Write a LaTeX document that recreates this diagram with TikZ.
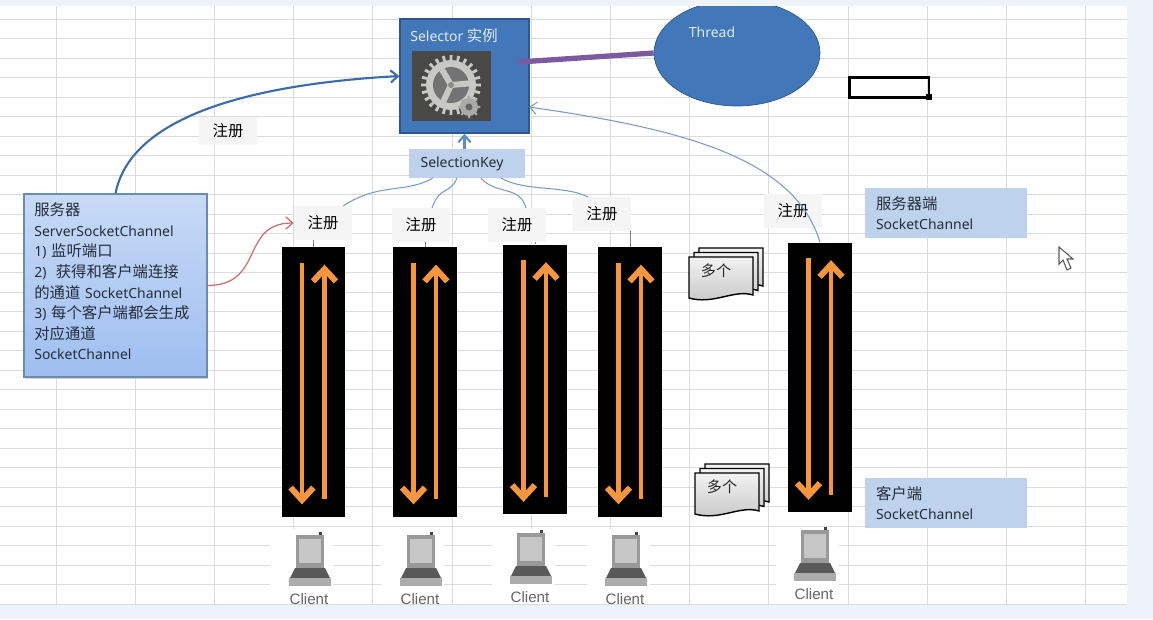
\documentclass[tikz,border=0pt]{standalone}
\usepackage{fontspec}
\usepackage{xcolor}
\usepackage{tikz}
\usetikzlibrary{arrows.meta,shadows,shapes.geometric}
\setmainfont{Noto Sans}
\newfontfamily\cjk[Scale=1.1]{Noto Sans CJK SC}
\newfontfamily\clientfont{Liberation Sans}
\definecolor{pagebg}{RGB}{238,243,250}
\definecolor{gridcol}{RGB}{220,220,220}
\definecolor{accent}{RGB}{66,120,186}
\definecolor{accentdark}{RGB}{46,88,140}
\definecolor{lightlabel}{RGB}{222,235,250}
\definecolor{keyblue}{RGB}{190,210,236}
\definecolor{regbg}{RGB}{245,245,245}
\definecolor{flow}{RGB}{247,150,60}
\definecolor{link}{RGB}{122,155,200}
\definecolor{linkred}{RGB}{200,110,110}
\definecolor{threadline}{RGB}{125,90,160}
\definecolor{silver}{RGB}{200,200,197}
\definecolor{gearbg}{RGB}{72,72,68}
\definecolor{inktext}{RGB}{35,45,60}
\definecolor{servertop}{RGB}{200,218,246}
\definecolor{servermid}{RGB}{222,234,252}
\definecolor{serverlow}{RGB}{158,190,240}
\tikzset{
  pics/client/.style={code={
    \fill[gray!80] (-13,-64) rectangle (15,-31);
    \fill[gray!45] (-10,-60) rectangle (12,-36);
    \fill[black!75] (10,-67) rectangle (13,-64);
    \fill[black!65] (-14,-31) -- (16,-31) -- (21,-21) -- (-19,-21) -- cycle;
    \fill[gray!65] (-20,-21) rectangle (22,-13);
    \node[clienttext] (-label) at (0,0) {Client};
  }},
  pics/docstack/.style={code={
    \foreach \d in {10,5,0}
      \draw[sheet,yshift=\d*0.018cm,xshift=\d*0.02cm]
        (0,0) -- (64,0) -- (64,38) .. controls (45,32) and (25,48) .. (0,41) -- cycle;
    \node[doctext] (-label) at (27,14) {多个};
  }}
}
\begin{document}
\begin{tikzpicture}[x=0.02cm,y=-0.02cm,>={Straight Barb[length=4pt,width=7pt]},
     font=\fontsize{7.95}{11.7}\selectfont,
     gridline/.style={gridcol,line width=0.5pt},
     channel/.style={fill=black,minimum width=1.27cm,minimum height=5.4cm,inner sep=0pt},
     flowline/.style={flow,line width=2.7pt,{Straight Barb[length=7pt,width=13pt,line width=3.4pt]}-},
     reg/.style={fill=regbg,minimum width=1.16cm,minimum height=0.68cm,inner sep=0pt,font=\fontsize{7.95}{9}\selectfont\cjk},
     sidebox/.style={fill=keyblue,minimum width=3.24cm,minimum height=1cm,inner xsep=0.22cm,text width=2.8cm,align=left,text=inktext,inner ysep=0pt},
     thinlink/.style={link,line width=0.6pt},
     stub/.style={gray,line width=0.5pt},
     clienttext/.style={font=\fontsize{8.6}{10}\selectfont\clientfont,text=black!60,inner sep=0pt},
     doctext/.style={font=\fontsize{7.8}{9}\selectfont\cjk,text=black!85,inner sep=0pt},
     sheet/.style={draw=black,line width=0.8pt,top color=gray!10,bottom color=gray!45}]
    \useasboundingbox (0,0) rectangle (1153,619);
    \fill[pagebg] (0,0) rectangle (1153,619);
    \fill[white] (0,5) rectangle (1127,604);
    \foreach \k in {0,...,30}
      \draw[gridline] (0,19+\k*19.5) -- (1127,19+\k*19.5);
    \foreach \k in {0,...,13}
      \draw[gridline] (56+\k*79.2,5) -- (56+\k*79.2,604);
    \foreach \x in {309,420,531,626,815}
      \fill[white] (\x-39,529) rectangle (\x+24,604);

    \node[ellipse,fill=accent,draw=accentdark,minimum width=3.32cm,minimum height=2.12cm,inner sep=0pt] (thread) at (737,53) {};
    \fill[pagebg] (0,0) rectangle (1153,5.5);
    \node[text=lightlabel,inner sep=0pt] (threadlabel) at (712,32) {Thread};

    \node[fill=accent,draw=accentdark,line width=0.8pt,minimum width=2.58cm,minimum height=2.28cm,inner sep=0pt] (selector) at (464.5,76) {};
    \node[anchor=west,text=lightlabel,inner sep=0pt] (selectorlabel) at (410,36) {Selector {\cjk 实例}};
    \node[fill=gearbg,minimum width=1.58cm,minimum height=1.4cm,inner sep=0pt] (gearimg) at (451.5,86) {};
    \foreach \a in {0,15,...,345}
      \fill[silver] (451,85) ++(\a-3:25) -- ++(\a-2:5) -- ++(\a+90:3) -- ++(\a+2:-5) -- cycle;
    \fill[silver] (451,85) circle (25);
    \fill[black!55] (451,85) circle (18);
    \foreach \a in {240,355,115}
      \draw[silver,line width=3.4pt] (451,85) -- ++(\a:18);
    \fill[silver!70!black] (451,85) circle (3);
    \foreach \a in {0,45,...,315}
      \fill[silver!85!black] (469,107) ++(\a:10) circle (1.5);
    \fill[silver!85!black] (469,107) circle (9);
    \fill[black!60] (469,107) circle (3.5);
    \coordinate (threadstart) at (519,62);
    \draw[threadline,line width=3pt] (threadstart) -- (thread.west);

    \node[draw=black,line width=1.7pt,minimum width=1.6cm,minimum height=0.4cm,inner sep=0pt] (cellframe) at (889,87.5) {};
    \node[fill=black,minimum size=0.11cm,inner sep=0pt] (cellhandle) at (929,97) {};

    \node[fill=keyblue,minimum width=2.32cm,minimum height=0.58cm,inner sep=0pt] (selkey) at (467,163.5) {};
    \node[text=inktext,inner sep=0pt] (selkeylabel) at (462,164) {SelectionKey};
    \draw[->,accent!85,line width=1.2pt] (selkey.north -| selector.south) -- (selector.south);

    \node[top color=servertop,middle color=servermid,bottom color=serverlow,draw=accentdark!70,line width=0.7pt,
          drop shadow={shadow xshift=0.02cm,shadow yshift=-0.04cm,opacity=0.3},
          minimum width=3.66cm,minimum height=3.66cm,inner sep=0pt] (server) at (115.5,285.5) {};
    \node[anchor=north west,text width=3.3cm,align=left,text=inktext,inner sep=0pt] (serverlabel) at (34,202.5)
      {{\cjk 服务器}\\ServerSocketChannel\\1) {\cjk 监听端口}\\2) \ {\cjk 获得和客户端连接}\\{\cjk 的通道} SocketChannel\\3) {\cjk 每个客户端都会生成}\\{\cjk 对应通道}\\SocketChannel};

    \node[reg,minimum height=0.56cm] (regtop) at (228,131) {注册};
    \foreach \n/\x/\y in {1/323/223,2/421/225,3/517/225,4/602/214,5/793/211}
      \node[reg] (reg\n) at (\x,\y) {注册};

    \foreach \n/\x/\y in {1/313.5/382,2/425/382,3/535/379.5,4/630/382,5/820/377.5} {
      \node[channel] (chan\n) at (\x,\y) {};
      \draw[flowline] ([xshift=-0.23cm,yshift=0.26cm]chan\n.south) -- ([xshift=-0.23cm,yshift=-0.32cm]chan\n.north);
      \draw[flowline] ([xshift=0.22cm,yshift=-0.36cm]chan\n.north) -- ([xshift=0.22cm,yshift=0.36cm]chan\n.south);
    }

    \draw[->,accent!90!black,line width=1.2pt] (server.north) .. controls (130,120) and (240,85) .. (selector.west);
    \draw[->,linkred,line width=0.7pt] (server.east) .. controls (265,285) and (240,223) .. (reg1.west);

    \coordinate (keyout1) at (433,178);
    \coordinate (keyout2) at (457,178);
    \coordinate (keyout3) at (481,178);
    \coordinate (keyout4) at (501,178);
    \coordinate (regin1) at (343,206);
    \coordinate (regin2) at (432,208);
    \coordinate (regin3) at (526,208);
    \coordinate (regin4) at (588,197);
    \coordinate (selin) at (529,107);
    \draw[thinlink] (keyout1) .. controls (405,194) and (380,182) .. (regin1);
    \draw[thinlink] (keyout2) .. controls (450,195) and (440,185) .. (regin2);
    \draw[thinlink] (keyout3) .. controls (495,195) and (520,185) .. (regin3);
    \draw[thinlink] (keyout4) .. controls (525,192) and (565,185) .. (regin4);
    \draw[->,thinlink] (chan5.north) .. controls (795,160) and (690,130) .. (selin);
    \foreach \n in {1,2,3,4}
      \draw[stub] (chan\n.north) -- (chan\n.north |- reg\n.south);

    \node[sidebox] (serverside) at (946,213) {{\cjk 服务器端}\\SocketChannel};
    \node[sidebox] (clientside) at (946,503) {{\cjk 客户端}\\SocketChannel};

    \pic (docsa) at (689,257) {docstack};
    \pic (docsb) at (695,473) {docstack};

    \pic (cli1) at (309,599) {client};
    \pic (cli2) at (420,599) {client};
    \pic (cli3) at (530,597) {client};
    \pic (cli4) at (625,599) {client};
    \pic (cli5) at (814,594) {client};

    \draw[fill=white,draw=black!65,line width=0.6pt] (1059,247) -- (1059,264) -- (1063,260) -- (1067,270) -- (1071,268) -- (1067,259) -- (1073,259) -- cycle;
  \end{tikzpicture}
\end{document}
